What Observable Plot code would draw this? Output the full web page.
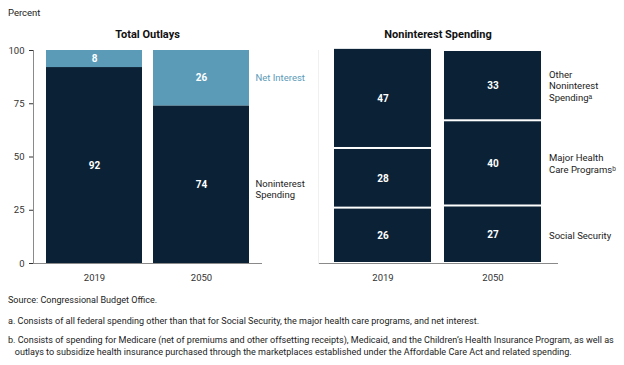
<!DOCTYPE html>
<html><head><meta charset="utf-8">
<script src="https://cdn.jsdelivr.net/npm/d3@7"></script>
<script src="https://cdn.jsdelivr.net/npm/@observablehq/plot@0.6"></script>
<style>
body{margin:0;background:#fff;font-family:"Roboto",sans-serif;color:#222}
#wrap{position:relative;width:624px;height:365px;overflow:hidden}
.abs{position:absolute}
.title{font-weight:bold;font-size:11px;color:#111;text-align:center}
.note{font-size:9.05px;line-height:12px;color:#222;left:8px;width:616px;white-space:nowrap}
</style></head>
<body><div id="wrap">
<div class="abs" style="left:8px;top:7px;font-size:9.5px">Percent</div>
<div class="abs title" style="left:33px;width:229px;top:28px">Total Outlays</div>
<div class="abs title" style="left:318px;width:240px;top:28px">Noninterest Spending</div>
<div id="left" class="abs" style="left:0;top:0"></div>
<div id="right" class="abs" style="left:310px;top:0"></div>
<div class="abs note" style="top:294px">Source: Congressional Budget Office.</div>
<div class="abs note" style="top:315px">a. Consists of all federal spending other than that for Social Security, the major health care programs, and net interest.</div>
<div class="abs note" style="top:334px">b. Consists of spending for Medicare (net of premiums and other offsetting receipts), Medicaid, and the Children’s Health Insurance Program, as well as<br>&nbsp;&nbsp;&nbsp;outlays to subsidize health insurance purchased through the marketplaces established under the Affordable Care Act and related spending.</div>
</div>
<script>
const years = ["2019", "2050"];
const netInterest = [8, 26];
const noninterest = [92, 74];
const socialSecurity = [26, 27];
const majorHealth = [28, 40];
const otherNoninterest = [47, 33];
const yTicks = [0, 25, 50, 75, 100];

const dark = "#0b2236", teal = "#5b9bb8";
const font = '"Roboto",sans-serif';

const leftCats = ["Noninterest\nSpending", "Net Interest"];
const leftData = [];
years.forEach((yr, i) => {
  leftData.push({year: yr, cat: leftCats[0], value: noninterest[i]});
  leftData.push({year: yr, cat: leftCats[1], value: netInterest[i]});
});
const rightCats = ["Social Security", "Major Health\nCare Programsᵇ", "Other\nNoninterest\nSpendingᵃ"];
const rightData = [];
years.forEach((yr, i) => {
  rightData.push({year: yr, cat: rightCats[0], value: socialSecurity[i]});
  rightData.push({year: yr, cat: rightCats[1], value: majorHealth[i]});
  rightData.push({year: yr, cat: rightCats[2], value: otherNoninterest[i]});
});
const left2050 = leftData.filter(d => d.year === "2050");

const left = Plot.plot({
  width: 310, height: 285,
  marginLeft: 33, marginRight: 48, marginTop: 50, marginBottom: 22,
  style: {fontFamily: font, fontSize: "9.5px", color: "#333", background: "transparent"},
  x: {domain: years, paddingInner: 0.103, paddingOuter: 0.12, label: null, tickSize: 0, tickPadding: 11},
  y: {domain: [0, 100], ticks: yTicks, label: null, tickSize: 4, tickPadding: 5},
  color: {domain: leftCats, range: [dark, teal]},
  marks: [
    Plot.barY(leftData, Plot.stackY({x: "year", y: "value", z: "cat", fill: "cat", order: leftCats})),
    Plot.text(leftData, Plot.stackY({x: "year", y: "value", z: "cat", text: "value", order: leftCats, fill: "white", fontWeight: "bold", fontSize: 10})),
    Plot.text(left2050, Plot.filter(d => d.cat === "Net Interest", Plot.stackY({x: "year", y: "value", z: "cat", text: "cat", order: leftCats, textAnchor: "start", dx: 54, fill: teal, fontSize: 9.5}))),
    Plot.text(left2050, Plot.filter(d => d.cat !== "Net Interest", Plot.stackY({x: "year", y: "value", z: "cat", text: "cat", order: leftCats, textAnchor: "start", dx: 54, dy: 4, fill: "#222", fontSize: 9.5, lineHeight: 1.25}))),
    Plot.ruleY([0], {stroke: "#8a8a8a"}),
    Plot.frame({anchor: "left", stroke: "#8a8a8a"})
  ]
});
document.getElementById("left").appendChild(left);

const right = Plot.plot({
  width: 314, height: 285,
  marginLeft: 8, marginRight: 66, marginTop: 50, marginBottom: 22,
  style: {fontFamily: font, fontSize: "9.5px", color: "#333", background: "transparent"},
  x: {domain: years, paddingInner: 0.117, paddingOuter: 0.14, label: null, tickSize: 0, tickPadding: 11},
  y: {domain: [0, 100], label: null, axis: null},
  color: {domain: rightCats, range: [dark, dark, dark]},
  marks: [
    Plot.barY(rightData, Plot.stackY({x: "year", y: "value", z: "cat", fill: "cat", order: rightCats, insetTop: 1, insetBottom: 1})),
    Plot.text(rightData, Plot.stackY({x: "year", y: "value", z: "cat", text: "value", order: rightCats, fill: "white", fontWeight: "bold", fontSize: 10})),
    Plot.text(rightData.filter(d => d.year === "2050"), Plot.stackY({x: "year", y: "value", z: "cat", text: "cat", order: rightCats, textAnchor: "start", dx: 56, fill: "#222", fontSize: 9.5, lineHeight: 1.25})),
    Plot.ruleY([0], {stroke: "#8a8a8a"}),
    Plot.frame({anchor: "left", stroke: "#f0f0f0"})
  ]
});
document.getElementById("right").appendChild(right);
</script>
</body></html>
